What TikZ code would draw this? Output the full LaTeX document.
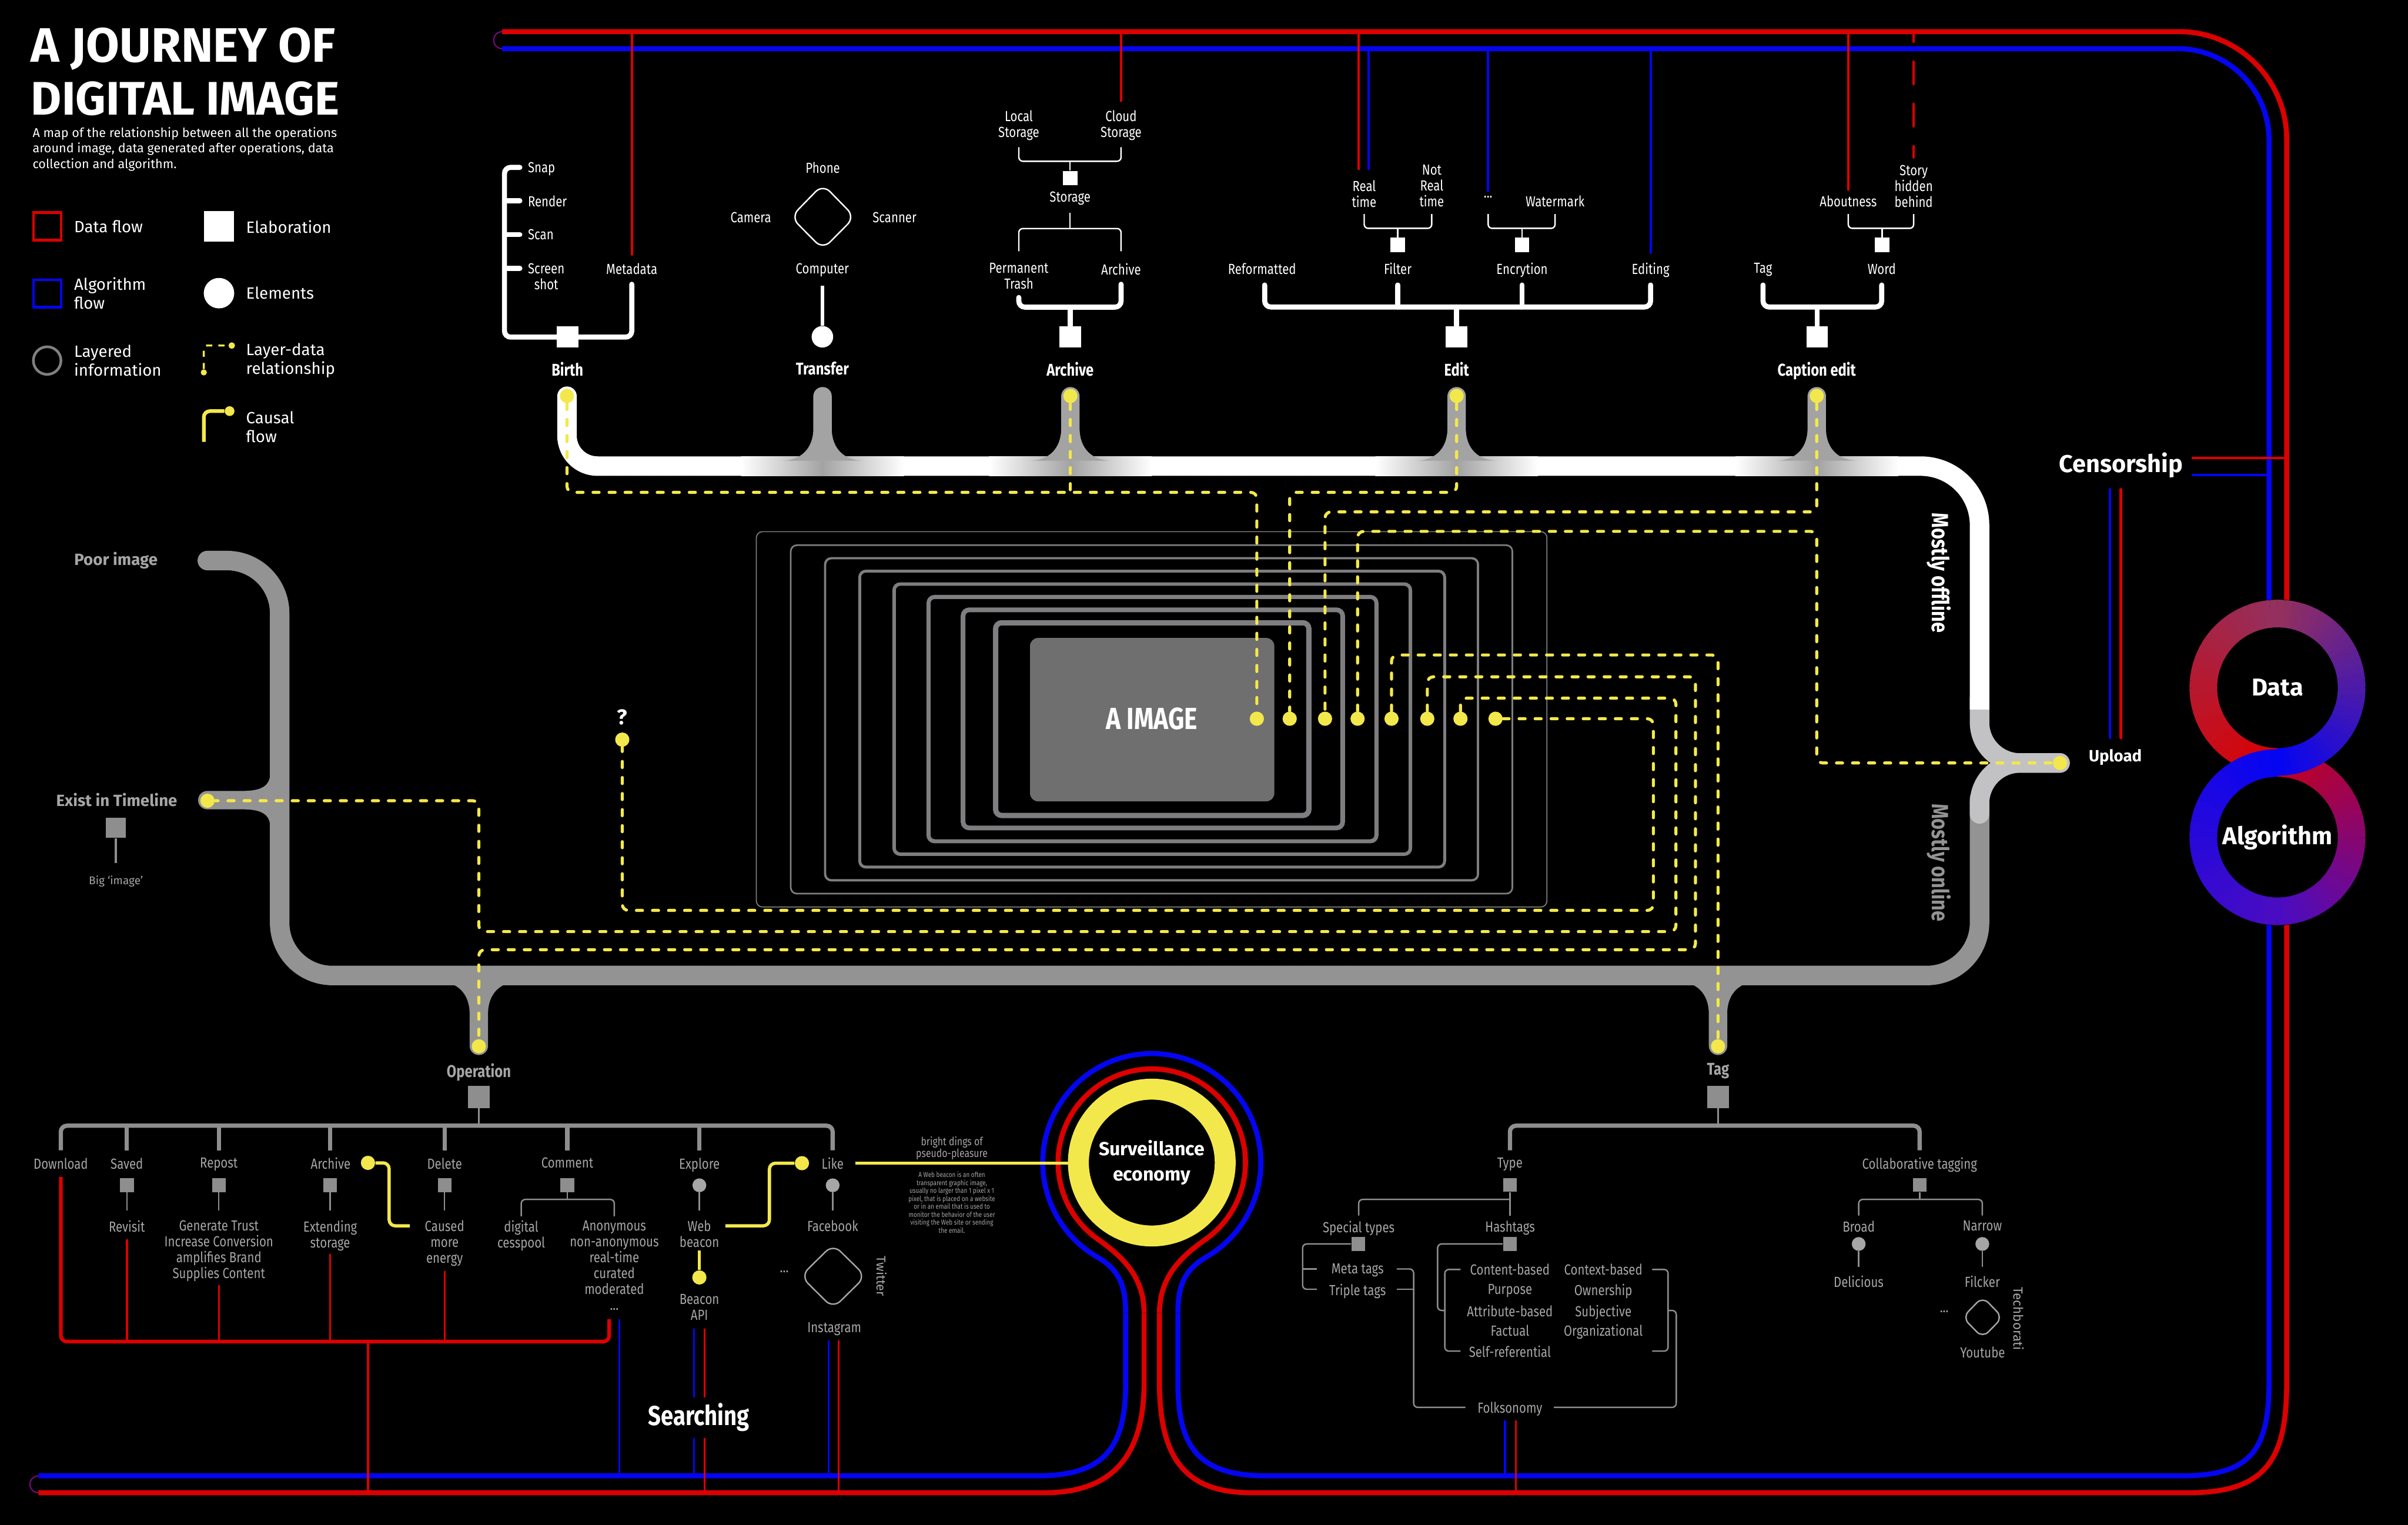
\documentclass[tikz,border=0pt]{standalone}
\usepackage{fontspec}
\setmainfont{Fira Sans}
\newfontfamily\cond[FakeStretch=0.82]{Fira Sans}
\usepackage{tikz}
\usetikzlibrary{positioning,shapes.geometric,calc}

\definecolor{dred}{HTML}{DC0000}
\definecolor{dblue}{HTML}{0505F2}
\definecolor{algred}{HTML}{C4001C}
\definecolor{dyel}{HTML}{F3E84B}
\definecolor{dmauve}{HTML}{93305E}
\definecolor{dpurple}{HTML}{4A0CC2}
\definecolor{dmix}{HTML}{7A0A80}
\definecolor{trackgray}{HTML}{939393}
\definecolor{forkgray}{HTML}{C2C2C4}
\definecolor{stemgray}{HTML}{A3A3A3}
\definecolor{txtgray}{HTML}{A6A6A6}
\definecolor{linegray}{HTML}{8E8E8E}
\definecolor{boxgray}{HTML}{7E7E80}
\definecolor{imgfill}{HTML}{6F6F6F}

\newcommand{\stemup}[2]{%
  \fill[#2] (#1-27,300) .. controls (#1-14,300) and (#1-6,292) .. (#1-6,279)
    -- (#1-6,258) arc[start angle=180, end angle=360, radius=6]
    -- (#1+6,279) .. controls (#1+6,292) and (#1+14,300) .. (#1+27,300) -- cycle;}
\newcommand{\stemdown}[2]{%
  \fill[#2] (#1-27,639) .. controls (#1-14,639) and (#1-6,647) .. (#1-6,660)
    -- (#1-6,681) arc[start angle=180, end angle=0, radius=6]
    -- (#1+6,660) .. controls (#1+6,647) and (#1+14,639) .. (#1+27,639) -- cycle;}

\begin{document}
\begin{tikzpicture}[x=0.026575cm, y=-0.026575cm,
  lbl/.style={font=\cond\fontsize{7.2pt}{7.8pt}\selectfont, text=white, align=center,
              inner sep=0pt, anchor=north, yshift=2.8pt},
  glbl/.style={lbl, text=txtgray},
  head/.style={font=\cond\bfseries\fontsize{8.4pt}{9pt}\selectfont, text=white,
               inner sep=0pt, anchor=north, yshift=3pt},
  ghead/.style={head, text=txtgray},
  leglbl/.style={font=\fontsize{8pt}{9.4pt}\selectfont, text=white, align=left,
                 anchor=west, inner sep=0pt},
  big/.style={font=\bfseries\fontsize{12pt}{14pt}\selectfont, text=white, inner sep=0pt},
  wsq/.style={rectangle, fill=white, minimum size=10.6pt, inner sep=0pt},
  wsqs/.style={rectangle, fill=white, minimum size=7.2pt, inner sep=0pt},
  gsq/.style={rectangle, fill=linegray, minimum width=10.6pt, minimum height=11pt, inner sep=0pt},
  gsqs/.style={rectangle, fill=linegray, minimum size=6.8pt, inner sep=0pt},
  gdot/.style={circle, fill=txtgray, minimum size=6.8pt, inner sep=0pt},
  ydot/.style={circle, fill=dyel, minimum size=7pt, inner sep=0pt},
  wthick/.style={white, line width=2.5pt, rounded corners=3pt, line cap=round},
  wthin/.style={white, line width=0.7pt, rounded corners=2pt},
  gthick/.style={linegray, line width=2.1pt, rounded corners=3pt},
  gthin/.style={linegray, line width=0.7pt, rounded corners=2pt},
  rline/.style={dred, line width=2.5pt},
  bline/.style={dblue, line width=2.5pt},
  rthin/.style={dred, line width=1.2pt, line cap=round},
  bthin/.style={dblue, line width=1.2pt, line cap=round},
  layer/.style={dyel, line width=1.5pt, dash pattern=on 3pt off 4.9pt, line cap=round, rounded corners=3pt},
  cause/.style={dyel, line width=1.6pt, rounded corners=3pt},
  track/.style={line width=9.6pt},
]
\useasboundingbox (0,0) rectangle (1568,993);
\fill[black] (0,0) rectangle (1568,993);

% title and legend
\node[anchor=base west, inner sep=0pt, text=white, font=\bfseries\fontsize{23.8pt}{26pt}\selectfont] (title1) at (20,40.3) {A JOURNEY OF};
\node[anchor=base west, inner sep=0pt, text=white, font=\bfseries\fontsize{23.2pt}{26pt}\selectfont] (title2) at (20,74.8) {DIGITAL IMAGE};
\node[anchor=north west, align=left, inner sep=0pt, text=white, font=\fontsize{6.25pt}{7.7pt}\selectfont] (subtitle) at (21,82.6)
  {A map of the relationship between all the operations\\around image, data generated after operations, data\\collection and algorithm.};

\node[rectangle, draw=dred, line width=1.3pt, minimum size=13.5pt, inner sep=0pt] (lgdata) at (30.8,147.4) {};
\node[leglbl] (lgdatat) at (48,147.6) {Data flow};
\node[rectangle, draw=dblue, line width=1.3pt, minimum size=13.5pt, inner sep=0pt] (lgalgo) at (30.8,191.1) {};
\node[leglbl] (lgalgot) at (48,191) {Algorithm\\flow};
\node[circle, draw=gray, line width=1.3pt, minimum size=13.6pt, inner sep=0pt] (lglayer) at (30.7,234.8) {};
\node[leglbl] (lglayert) at (48,234.7) {Layered\\information};
\node[wsq, minimum size=15pt] (lgelab) at (142.6,147.5) {};
\node[leglbl] (lgelabt) at (160,147.6) {Elaboration};
\node[circle, fill=white, minimum size=15pt, inner sep=0pt] (lgelem) at (142.6,190.9) {};
\node[leglbl] (lgelemt) at (160,190.9) {Elements};
\node[circle, fill=dyel, minimum size=3pt, inner sep=0pt] (lgld1) at (132.7,242.5) {};
\node[circle, fill=dyel, minimum size=3.2pt, inner sep=0pt] (lgld2) at (150.9,225) {};
\draw[dyel, line width=1pt, dash pattern=on 3pt off 3pt, rounded corners=1.5pt] (lgld1) -- (132.7,225) -- (lgld2);
\node[leglbl] (lgldt) at (160,234.7) {Layer-data\\relationship};
\node[circle, fill=dyel, minimum size=4.8pt, inner sep=0pt] (lgcause) at (149.5,267.7) {};
\draw[cause, line width=1.8pt] (132.7,287.7) -- (132.7,267.7) -- (lgcause);
\node[leglbl] (lgcauset) at (160,278) {Causal\\flow};

% red and blue frame
\draw[rline, rounded corners=53pt] (1489,900) -- (1489,20.6) -- (327,20.6);
\draw[bline, rounded corners=45pt] (1477.5,900) -- (1477.5,31.7) -- (327,31.7);
\draw[dmix, line width=0.6pt] (327,20.6) arc[start angle=270, end angle=90, radius=5.55];
\draw[rline] (755,855) -- (755,900) .. controls (755,950) and (772,972) .. (815,972) -- (1425,972)
  .. controls (1476,972) and (1489,950) .. (1489,900);
\draw[bline] (767,855) -- (767,900) .. controls (767,942) and (780,961) .. (825,961) -- (1420,961)
  .. controls (1465,961) and (1477.5,945) .. (1477.5,900);
\draw[rline] (25,972) -- (680,972) .. controls (727,972) and (745,945) .. (745,900) -- (745,855);
\draw[bline] (25,961) -- (675,961) .. controls (720,961) and (733,942) .. (733,900) -- (733,855);
\draw[dmix, line width=0.6pt] (25,961) arc[start angle=270, end angle=90, radius=5.5];
\draw[rline] (745,855) .. controls (745,830) and (729,817) .. (715,807)
  arc[start angle=125, end angle=415, radius=61] .. controls (771,817) and (755,830) .. (755,855);
\draw[bline] (733,855) .. controls (733,838) and (729.2,827) .. (714.5,818.5)
  arc[start angle=120, end angle=420, radius=71] .. controls (770.8,827) and (767,838) .. (767,855);
\draw[dyel, line width=10.3pt] (750,757) circle[radius=47.8];
\node[font=\bfseries\fontsize{9.3pt}{12.3pt}\selectfont, text=white, align=center, inner sep=0pt] (surv) at (750,757) {Surveillance\\economy};

% branch lines to the frame
\draw[rthin] (411.4,20.6) -- (411.4,165.7);
\draw[rthin] (730,20.6) -- (730,65.7);
\draw[rthin] (884.8,20.6) -- (884.8,110);
\draw[bthin] (891.3,31.7) -- (891.3,110);
\draw[bthin] (969,31.7) -- (969,124.3);
\draw[bthin] (1074.8,31.7) -- (1074.8,164.6);
\draw[rthin] (1203.5,20.6) -- (1203.5,123.5);
\draw[rthin, dash pattern=on 11pt off 9.8pt, dash phase=6pt] (1246.1,20.6) -- (1246.1,102.5);

% censorship, upload, data and algorithm
\node[big] (censor) at (1381,303) {Censorship};
\draw[dred, line width=1.25pt] (1427,298.3) -- (1489,298.3);
\draw[dblue, line width=1.25pt] (1427,309.4) -- (1477.5,309.4);
\draw[bthin] (1373.9,318.6) -- (1373.9,480.5);
\draw[rthin] (1381,318.6) -- (1381,480.5);
\node[font=\bfseries\fontsize{8pt}{9pt}\selectfont, text=white, inner sep=0pt] (upload) at (1377.4,493) {Upload};

\fill[black] (1483,447.8) circle[radius=57.5];
\fill[black] (1483,545.1) circle[radius=57.5];
\foreach \i in {0,...,35}{
  \pgfmathtruncatemacro{\p}{round(100*\i/35)}
  \draw[line width=13.6pt, draw=dred!\p!dmauve] ($(1483,447.8)+({270-5*\i}:48.3)$)
    arc[start angle={270-5*\i}, end angle={264.6-5*\i}, radius=48.3];
}
\foreach \i in {0,...,35}{
  \pgfmathtruncatemacro{\p}{round(100*\i/35)}
  \draw[line width=13.6pt, draw=dpurple!\p!algred] ($(1483,545.1)+({270+5*\i}:48.3)$)
    arc[start angle={270+5*\i}, end angle={275.4+5*\i}, radius=48.3];
}
\foreach \i in {0,...,35}{
  \pgfmathtruncatemacro{\p}{round(100*\i/35)}
  \draw[line width=13.6pt, draw=dblue!\p!dpurple] ($(1483,545.1)+({450+5*\i}:48.3)$)
    arc[start angle={450+5*\i}, end angle={455.4+5*\i}, radius=48.3];
}
\foreach \i in {0,...,35}{
  \pgfmathtruncatemacro{\p}{round(100*\i/35)}
  \draw[line width=13.6pt, draw=dmauve!\p!dblue] ($(1483,447.8)+({90-5*\i}:48.3)$)
    arc[start angle={90-5*\i}, end angle={84.6-5*\i}, radius=48.3];
}
\node[big] (data) at (1483,447.8) {Data};
\node[big] (algo) at (1483,545.1) {Algorithm};

% track
\draw[trackgray, track, rounded corners=26pt, line cap=round] (1289,520) -- (1289,635.2) -- (182.1,635.2) -- (182.1,365) -- (135,365);
\fill[trackgray] (176,503) .. controls (176,512) and (170,515) .. (158,515) -- (135,515)
  arc[start angle=270, end angle=90, radius=6] -- (158,527) .. controls (170,527) and (176,530) .. (176,539) -- cycle;
\draw[forkgray, track, rounded corners=20pt, line cap=round] (1289,455) -- (1289,496.8) -- (1341.4,496.8);
\draw[forkgray, track, rounded corners=20pt, line cap=round] (1289,530) -- (1289,496.8) -- (1341.4,496.8);
\draw[white, track, rounded corners=15pt, line cap=round] (369.2,258) -- (369.2,303.5) -- (700,303.5);
\draw[white, track, rounded corners=29pt] (699,303.5) -- (1289,303.5) -- (1289,462);
\foreach \x in {535.6,697,948.5,1183}{
  \shade[left color=white, right color=stemgray] (\x-53,297.2) rectangle (\x,309.8);
  \shade[left color=stemgray, right color=white] (\x,297.2) rectangle (\x+53,309.8);
  \stemup{\x}{stemgray}
}
\stemdown{311.8}{trackgray}
\stemdown{1118.7}{trackgray}

\node[font=\cond\bfseries\fontsize{11.5pt}{12pt}\selectfont, text=white, rotate=-90, inner sep=0pt] (offline) at (1262.5,373) {Mostly offline};
\node[font=\cond\bfseries\fontsize{11.5pt}{12pt}\selectfont, text=trackgray, rotate=-90, inner sep=0pt] (online) at (1262.5,561.6) {Mostly online};
\node[font=\bfseries\fontsize{8pt}{9pt}\selectfont, text=txtgray, inner sep=0pt] (poor) at (75.5,365) {Poor image};
\node[font=\bfseries\fontsize{8pt}{9pt}\selectfont, text=txtgray, inner sep=0pt] (exist) at (76,521) {Exist in Timeline};
\node[rectangle, fill=linegray, minimum size=9.8pt, inner sep=0pt] (bigsq) at (75.5,539) {};
\draw[linegray, line width=1.2pt] (bigsq) -- (75.5,562);
\node[font=\fontsize{5.5pt}{6pt}\selectfont, text=txtgray, inner sep=0pt] (bigimg) at (75.5,574) {Big `image'};

% nested layers around the image
\foreach \l/\t/\r/\b/\w in {492.5/346.2/1007.3/590.6/0.5, 514.9/355/984.8/581.9/0.8,
    537.3/363.5/962.4/573.2/1.1, 559.8/371.9/940.7/564.6/1.4, 582.2/380.3/918.4/556.2/1.7,
    604.6/388.7/896.3/547.8/2.0, 627.1/397.1/874.3/539.1/2.3, 648.3/405.5/852.3/531/2.6}
  \draw[boxgray, line width=\w pt, rounded corners=3pt] (\l,\t) rectangle (\r,\b);
\fill[imgfill, rounded corners=4pt] (670.7,415.4) rectangle (829.8,521.8);
\node[font=\cond\bfseries\fontsize{15pt}{16pt}\selectfont, text=white, inner sep=0pt] (img) at (750,468) {A IMAGE};

% top stages
\node[lbl, anchor=north west] (snap) at (343.5,109) {Snap};
\node[lbl, anchor=north west] (render) at (343.5,130.8) {Render};
\node[lbl, anchor=north west] (scan) at (343.5,152.8) {Scan};
\node[lbl, anchor=north west] (shot) at (343.5,174.8) {Screen\\shot};
\node[lbl] (meta) at (411.4,174.8) {Metadata};
\draw[wthick] (338.5,109) -- (328.5,109) -- (328.5,219.5) -- (411.4,219.5) -- (411.4,185.1);
\foreach \y in {130.8,152.8,174.8} \draw[wthick] (328.5,\y) -- (338.5,\y);
\node[wsq] (birthsq) at (369.7,219.3) {};
\node[head] (birth) at (369.5,239.4) {Birth};

\node[lbl] (phone) at (535.8,109.2) {Phone};
\node[lbl] (camera) at (488.9,141.6) {Camera};
\node[lbl] (scanner) at (582.5,141.6) {Scanner};
\node[lbl] (computer) at (535.5,174.8) {Computer};
\draw[white, line width=0.7pt, rounded corners=5pt] (535.8,120) -- (556.6,141.3) -- (535.8,162.3) -- (515,141.3) -- cycle;
\node[circle, fill=white, minimum size=10.6pt, inner sep=0pt] (comp) at (535.5,219.3) {};
\draw[white, line width=1.8pt] (535.5,186) -- (comp);
\node[head] (transfer) at (535.5,239.4) {Transfer};

\node[lbl] (local) at (663.4,75.3) {Local\\Storage};
\node[lbl] (cloud) at (730,75.3) {Cloud\\Storage};
\draw[wthin] (663.4,95.8) -- (663.4,105) -- (730,105) -- (730,95.8);
\node[wsqs] (storsq) at (696.8,116) {};
\draw[wthin] (696.8,105) -- (storsq);
\node[lbl] (storage) at (696.8,128.3) {Storage};
\draw[wthin] (696.8,138.5) -- (696.8,148.8);
\draw[wthin] (663.4,163.6) -- (663.4,148.8) -- (730,148.8) -- (730,163.6);
\node[lbl] (trash) at (663.4,174.8) {Permanent\\Trash};
\node[lbl] (archl) at (730,174.8) {Archive};
\node[wsq] (archsq) at (696.8,219.3) {};
\draw[wthick] (663.4,193.7) -- (663.4,200) -- (730,200) -- (730,185.1);
\draw[wthick] (696.8,200) -- (archsq);
\node[head] (archive) at (696.8,239.4) {Archive};

\node[lbl] (realt) at (888.3,121) {Real\\time};
\node[lbl] (notreal) at (932.3,110.9) {Not\\Real\\time};
\node[lbl] (encdots) at (969,131) {...};
\node[lbl] (water) at (1012.6,131) {Watermark};
\draw[wthin] (888.3,139.4) -- (888.3,148.7) -- (932.3,148.7) -- (932.3,139.4);
\draw[wthin] (969,139.4) -- (969,148.7) -- (1012.6,148.7) -- (1012.6,139.4);
\node[wsqs] (filtsq) at (910.2,159.6) {};
\node[wsqs] (encsq) at (991.1,159.6) {};
\draw[wthin] (910.2,148.7) -- (filtsq);
\draw[wthin] (991.1,148.7) -- (encsq);
\node[lbl] (refor) at (821.8,174.7) {Reformatted};
\node[lbl] (filter) at (910.2,174.7) {Filter};
\node[lbl] (encr) at (991.1,174.7) {Encrytion};
\node[lbl] (editing) at (1074.8,174.7) {Editing};
\draw[wthick] (823.5,185.6) -- (823.5,199.9) -- (1074.8,199.9) -- (1074.8,185.6);
\draw[wthick] (910.2,199.9) -- (910.2,185.6);
\draw[wthick] (991.1,199.9) -- (991.1,185.6);
\node[wsq] (editsq) at (948.5,219.3) {};
\draw[wthick] (948.5,199.9) -- (editsq);
\node[head] (edit) at (948.5,239.4) {Edit};

\node[lbl] (about) at (1203.5,131) {Aboutness};
\node[lbl] (story) at (1246.1,110.9) {Story\\hidden\\behind};
\draw[wthin] (1203.5,139.4) -- (1203.5,148.7) -- (1246.1,148.7) -- (1246.1,139.4);
\node[wsqs] (wordsq) at (1225.6,159.6) {};
\draw[wthin] (1225.6,148.7) -- (wordsq);
\node[lbl] (tagl) at (1148,174.7) {Tag};
\node[lbl] (word) at (1225.3,174.7) {Word};
\draw[wthick] (1148,185.6) -- (1148,199.9) -- (1225.3,199.9) -- (1225.3,185.6);
\node[wsq] (capsq) at (1183.3,219.3) {};
\draw[wthick] (1183.3,199.9) -- (capsq);
\node[head] (caption) at (1183,239.4) {Caption edit};

% operation
\node[ghead] (op) at (311.8,696) {Operation};
\node[gsq] (opsq) at (311.8,714.2) {};
\draw[linegray, line width=1pt] (opsq) -- (311.8,733);
\draw[gthick] (39.6,749) -- (39.6,733) -- (542.2,733) -- (542.2,749);
\foreach \x in {82.6,142.5,215,289.5,369.4,455.4} \draw[gthick] (\x,733) -- (\x,749);
\foreach \x/\t in {39.6/Download, 82.6/Saved, 142.5/Repost, 215.3/Archive, 289.5/Delete,
    369.4/Comment, 455.4/Explore, 542.2/Like}
  \node[glbl] at (\x,757.4) {\t};
\foreach \x in {82.6,142.5,215,289.5,369.4} \node[gsqs] at (\x,771.8) {};
\node[gdot] (explore) at (455.4,771.8) {};
\node[gdot] (like) at (542.2,771.8) {};
\foreach \x in {82.6,142.5,215,289.5,455.4,542.2} \draw[gthin] (\x,776.3) -- (\x,788.3);
\draw[gthin] (369.4,776) -- (369.4,781);
\draw[gthin] (339.4,792) -- (339.4,781) -- (400,781) -- (400,792);
\node[glbl] (revisit) at (82.6,798.2) {Revisit};
\node[glbl] (trust) at (142.5,798.2) {Generate Trust\\Increase Conversion\\amplifies Brand\\Supplies Content};
\node[glbl] (extend) at (215,798.2) {Extending\\storage};
\node[glbl] (energy) at (289.5,798.2) {Caused\\more\\energy};
\node[glbl] (cess) at (339.4,798.2) {digital\\cesspool};
\node[glbl] (anon) at (400,798.2) {Anonymous\\non-anonymous\\real-time\\curated\\moderated};
\node[font=\cond\fontsize{7.2pt}{7.8pt}\selectfont, text=txtgray, inner sep=0pt, anchor=base] (opdots) at (400,853) {...};
\node[glbl] (web) at (455.4,798.2) {Web\\beacon};
\node[glbl] (fb) at (542.2,798.2) {Facebook};
\node[ydot] (beacondot) at (455.4,831.8) {};
\node[glbl] (api) at (455.4,846.2) {Beacon\\API};
\draw[txtgray, line width=0.7pt, rounded corners=5pt] (542.5,810.2) -- (563.7,831) -- (542.5,851.9) -- (521.4,831) -- cycle;
\node[glbl] (twdots) at (510.7,831) {...};
\node[font=\fontsize{6.3pt}{7pt}\selectfont, text=txtgray, rotate=-90, inner sep=0pt] (twitter) at (574,831) {Twitter};
\node[glbl] (insta) at (543.3,864.5) {Instagram};

\node[ydot] (archdot) at (239.6,757.2) {};
\draw[cause] (archdot) -- (253.4,757.2) -- (253.4,798.2) -- (266.9,798.2);
\node[ydot] (likedot) at (522.2,757.4) {};
\draw[cause] (472.3,798.2) -- (501,798.2) -- (501,757.4) -- (likedot);
\draw[cause] (455.4,814.4) -- (beacondot);
\draw[cause] (556.8,757.4) -- (695.4,757.4);

\node[font=\cond\fontsize{5.6pt}{5.8pt}\selectfont, text=txtgray, align=center, inner sep=0pt] (bright) at (619.8,747.5) {bright dings of\\pseudo-pleasure};
\node[font=\cond\fontsize{3.5pt}{3.9pt}\selectfont, text=txtgray, align=center, inner sep=0pt] (beacontxt) at (619.8,783)
  {A Web beacon is an often\\transparent graphic image,\\usually no larger than 1 pixel x 1\\pixel, that is placed on a website\\or in an email that is used to\\monitor the behavior of the user\\visiting the Web site or sending\\the email.};

\draw[dred, line width=1.8pt, rounded corners=3pt] (39.6,766.4) -- (39.6,873.6) -- (396.7,873.6) -- (396.7,859);
\foreach \x/\y in {82.6/806.8, 142.5/836.7, 215/816.6, 289.5/827.6} \draw[dred, line width=1pt] (\x,\y) -- (\x,873.6);
\draw[dred, line width=1pt] (239.6,873.6) -- (239.6,972);
\draw[dblue, line width=1pt] (403.2,859) -- (403.2,961);
\draw[dblue, line width=1pt] (452,865) -- (452,961);
\draw[dred, line width=1pt] (458.8,865) -- (458.8,972);
\draw[dblue, line width=1pt] (539.5,872.9) -- (539.5,961);
\draw[dred, line width=1pt] (546,872.9) -- (546,972);
\draw[dblue, line width=1pt] (980,925) -- (980,961);
\draw[dred, line width=1pt] (987,925) -- (987,972);
\node[font=\cond\bfseries\fontsize{13.5pt}{14pt}\selectfont, text=white, fill=black, inner sep=3pt] (search) at (455,923) {Searching};

% tag
\node[ghead] (tag) at (1118.7,696) {Tag};
\node[gsq] (tagsq) at (1118.7,714.2) {};
\draw[linegray, line width=1pt] (tagsq) -- (1118.7,733);
\draw[gthick] (983.2,749) -- (983.2,733) -- (1250,733) -- (1250,749);
\node[glbl] (type) at (983.2,757.4) {Type};
\node[glbl] (collab) at (1250,757.4) {Collaborative tagging};
\node[gsqs] (typesq) at (983.3,771.5) {};
\node[gsqs] (collsq) at (1250,771.5) {};
\draw[gthin] (typesq) -- (983.3,791.5);
\draw[gthin] (983.3,781) -- (884.7,781) -- (884.7,791.5);
\node[glbl] (special) at (884.7,798.4) {Special types};
\node[glbl] (hash) at (983.3,798.4) {Hashtags};
\node[gsqs] (specsq) at (884.5,810) {};
\node[gsqs] (hashsq) at (983.3,810) {};
\draw[gthin] (specsq) -- (848.2,810) -- (848.2,839.5) -- (857.5,839.5);
\draw[gthin] (848.2,826.3) -- (857.5,826.3);
\node[glbl] (metat) at (884,826.3) {Meta tags};
\node[glbl] (triplet) at (884,839.5) {Triple tags};
\draw[gthin] (909.5,826.3) -- (920.5,826.3) -- (920.5,916.4) -- (954.2,916.4);
\draw[gthin] (909.5,839.5) -- (920.5,839.5);
\node[glbl] (folk) at (983.2,916.4) {Folksonomy};
\draw[gthin] (1011.8,916.4) -- (1091.5,916.4) -- (1091.5,853.3) -- (1086.2,853.3);
\draw[gthin] (hashsq) -- (936.1,810) -- (936.1,853.3) -- (940.8,853.3);
\draw[gthin] (951,826.6) -- (940.8,826.6) -- (940.8,879.8) -- (951,879.8);
\draw[gthin] (1075.8,826.6) -- (1086.2,826.6) -- (1086.2,879.8) -- (1075.8,879.8);
\foreach \y/\a/\b in {826.6/Content-based/Context-based, 839.5/Purpose/Ownership,
    853.3/Attribute-based/Subjective, 866.1/Factual/Organizational}{
  \node[glbl] at (983.2,\y) {\a};
  \node[glbl] at (1044,\y) {\b};
}
\node[glbl] (selfref) at (983.2,879.6) {Self-referential};
\draw[gthin] (collsq) -- (1250,781);
\draw[gthin] (1210.3,791.5) -- (1210.3,781) -- (1290.8,781) -- (1290.8,791.5);
\node[glbl] (broad) at (1210.3,798.4) {Broad};
\node[glbl] (narrow) at (1290.8,798.4) {Narrow};
\node[gdot] (broaddot) at (1210.3,810) {};
\node[gdot] (narrowdot) at (1290.8,810) {};
\draw[gthin] (broaddot) -- (1210.3,825);
\draw[gthin] (narrowdot) -- (1290.8,825);
\node[glbl] (delic) at (1210.3,834) {Delicious};
\node[glbl] (flick) at (1290.8,834) {Filcker};
\draw[txtgray, line width=0.7pt, rounded corners=4pt] (1291,844.4) -- (1304,857.8) -- (1291,871.1) -- (1278,857.8) -- cycle;
\node[glbl] (ytdots) at (1266,857) {...};
\node[glbl] (youtube) at (1291,880.5) {Youtube};
\node[font=\fontsize{6.5pt}{7pt}\selectfont, text=txtgray, rotate=-90, inner sep=0pt] (techno) at (1314.4,858.6) {Techborati};

% layer-data links
\node[ydot] (birthdot) at (369.2,257.8) {};
\node[ydot] (archdot2) at (697,257.8) {};
\node[ydot] (editdot) at (948.5,257.8) {};
\node[ydot] (capdot) at (1183,257.8) {};
\node[ydot] (opdot) at (311.8,681.3) {};
\node[ydot] (tagdot) at (1118.7,681.3) {};
\node[ydot] (existdot) at (135.1,521.4) {};
\node[ydot] (uploaddot) at (1341.4,496.8) {};
\node[ydot] (qdot) at (405.2,481.6) {};
\node[font=\bfseries\fontsize{10.5pt}{11pt}\selectfont, text=white, inner sep=0pt] (qmark) at (405.2,467) {?};
\foreach \n/\x in {1/818.4,2/839.8,3/862.8,4/884,5/906.1,6/929.4,7/951,8/973.8}
  \node[ydot] (i\n) at (\x,468) {};
\draw[layer] (birthdot) -- (369.2,320.6) -- (818.4,320.6) -- (i1);
\draw[layer] (archdot2) -- (697,320.6);
\draw[layer] (editdot) -- (948.5,320.6) -- (839.8,320.6) -- (i2);
\draw[layer] (capdot) -- (1183,333.3) -- (862.8,333.3) -- (i3);
\draw[layer] (i4) -- (884,346) -- (1183,346) -- (1183,496.8) -- (uploaddot);
\draw[layer] (i5) -- (906.1,426.5) -- (1118.7,426.5) -- (tagdot);
\draw[layer] (i6) -- (929.4,440.7) -- (1104,440.7) -- (1104,618.4) -- (311.8,618.4) -- (opdot);
\draw[layer] (i7) -- (951,454.6) -- (1091.3,454.6) -- (1091.3,606.6) -- (311.8,606.6) -- (311.8,521.4) -- (existdot);
\draw[layer] (i8) -- (1076.6,468) -- (1076.6,592.8) -- (405.2,592.8) -- (qdot);

\end{tikzpicture}
\end{document}
